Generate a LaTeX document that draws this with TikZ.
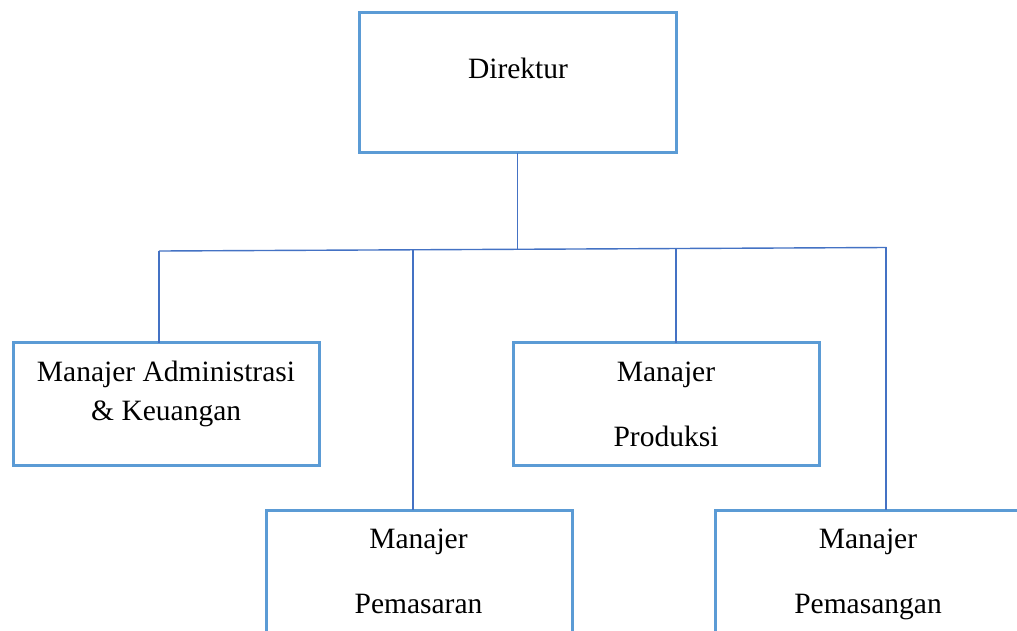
\documentclass[tikz,border=0pt]{standalone}
\usepackage{fontspec}
\setmainfont{Liberation Serif}
\definecolor{boxblue}{RGB}{91,155,213}
\definecolor{lineblue}{RGB}{68,114,196}
\begin{document}
\begin{tikzpicture}[x=1pt,y=-1pt,
  orgbox/.style={draw=boxblue,line width=3pt,rectangle,inner sep=0pt,outer sep=0pt},
  conn/.style={draw=lineblue,line width=1.4pt},
  txt/.style={anchor=base,inner sep=0pt,font=\fontsize{29.5}{35}\selectfont}]
\useasboundingbox (0,0) rectangle (1017,630);
\clip (0,0) rectangle (1017,630);
\fill[white] (0,0) rectangle (1017,630);
% boxes
\node[orgbox,minimum width=317pt,minimum height=140pt] (dir) at (517.5,82.7) {};
\node[orgbox,minimum width=306pt,minimum height=122.3pt] (adm) at (166,403.9) {};
\node[orgbox,minimum width=306pt,minimum height=122.3pt] (prod) at (666,403.9) {};
\node[orgbox,minimum width=306pt,minimum height=150pt] (pms) at (419,585) {};
\node[orgbox,minimum width=306pt,minimum height=150pt] (pmg) at (868,585) {};
% texts
\node[txt] (tdir) at (518,78) {Direktur};
\node[txt] (tadm1) at (166,381.5) {Manajer Administrasi};
\node[txt] (tadm2) at (166.2,420) {\& Keuangan};
\node[txt] (tprod1) at (666,381.5) {Manajer};
\node[txt] (tprod2) at (666,446.7) {Produksi};
\node[txt] (tpms1) at (418.5,548) {Manajer};
\node[txt] (tpms2) at (418.5,613) {Pemasaran};
\node[txt] (tpmg1) at (868,548) {Manajer};
\node[txt] (tpmg2) at (868,613) {Pemasangan};
% bus
\coordinate (bl) at (159,251);
\coordinate (br) at (886,247.5);
\coordinate (bdir) at (517.7,249.3);
\coordinate (bpms) at (413,249.8);
\coordinate (bprod) at (676,248.5);
\coordinate (bpmg) at (886,246.7);
\draw[conn] (bl) -- (br);
\draw[conn] (dir.south -| bdir) -- (bdir);
\draw[conn] (bl) -- (bl |- adm.north);
\draw[conn] (bpms) -- (bpms |- pms.north);
\draw[conn] (bprod) -- (bprod |- prod.north);
\draw[conn] (bpmg) -- (bpmg |- pmg.north);
\end{tikzpicture}
\end{document}
